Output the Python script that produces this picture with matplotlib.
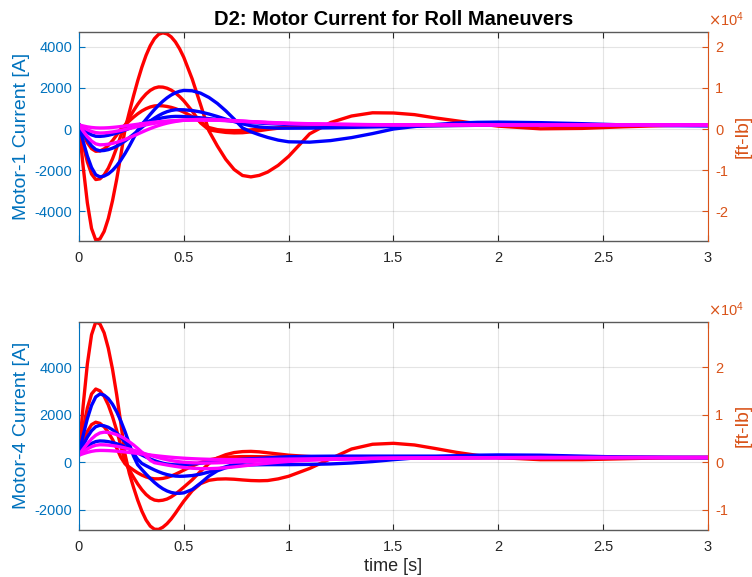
import matplotlib
matplotlib.use("Agg")
import matplotlib.pyplot as plt

plt.rcParams['font.family'] = ['Liberation Sans', 'DejaVu Sans']
plt.rcParams['axes.unicode_minus'] = False

# time samples [s]
t = [0, .02, .04, .06, .08, .10, .12, .14, .16, .18, .20, .22, .24, .26, .28, .30, .32, .34, .36, .38,
     .40, .42, .44, .46, .48, .50,
     .54, .58, .62, .66, .70, .74, .78, .82, .86, .90, .95, 1.0,
     1.1, 1.2, 1.3, 1.4, 1.5, 1.6, 1.7, 1.8, 1.9, 2.0, 2.2, 2.4, 2.6, 2.8, 3.0]

# Motor-1 current [A]
m1_red_a = [200, -1830, -3590, -4840, -5400, -5350, -4985, -4355, -3490, -2445, -1250, 0, 812, 1600, 2340,
            3008, 3585, 4053, 4398, 4609, 4680, 4630, 4482, 4239, 3903, 3487,
            2435, 1183, -94, -825, -1474, -1969, -2262, -2329, -2256, -2093, -1769, -1331,
            -236, 315, 633, 790, 780, 700, 540, 400, 260, 140, 10, 30, 110, 170, 200]
m1_red_b = [200, -761, -1600, -2190, -2458, -2426, -2235, -1905, -1452, -909, -309, 182, 543, 884, 1199,
            1474, 1704, 1880, 1995, 2048, 2039, 1986, 1892, 1755, 1581, 1373,
            873, 297, -40, -110, -165, -188, -180, -140, -80, -20, 40, 80,
            110, 130, 140, 150, 160, 165, 170, 175, 180, 180, 180, 180, 180, 180, 180]
m1_red_c = [200, -264, -669, -955, -1084, -1067, -968, -797, -567, -294, 0, 199, 393, 574, 738,
            878, 990, 1073, 1123, 1137, 1126, 1098, 1053, 991, 914, 824,
            605, 348, 71, -30, -70, -80, -70, -40, 0, 30, 60, 90,
            120, 140, 150, 160, 165, 170, 175, 180, 180, 180, 180, 180, 180, 180, 180]
m1_blue_a = [200, -597, -1313, -1875, -2226, -2329, -2290, -2183, -2013, -1787, -1510, -1188, -834, -452, -58,
             218, 471, 714, 946, 1160, 1351, 1517, 1656, 1763, 1837, 1877,
             1861, 1745, 1535, 1245, 887, 484, 53, -134, -280, -409, -540, -622,
             -640, -563, -418, -222, 0, 120, 220, 290, 325, 335, 310, 260, 200, 165, 150]
m1_blue_b = [200, -189, -541, -819, -998, -1060, -1045, -1003, -932, -837, -718, -579, -424, -260, -88,
             80, 238, 390, 529, 654, 760, 844, 903, 935, 940, 935,
             900, 830, 730, 610, 480, 360, 250, 160, 100, 65, 45, 40,
             45, 60, 80, 100, 120, 140, 155, 170, 180, 190, 190, 185, 180, 180, 180]
m1_blue_c = [200, 8, -160, -285, -352, -358, -340, -305, -255, -195, -125, -50, 30, 110, 190,
             265, 335, 400, 455, 505, 548, 580, 603, 614, 612, 605,
             580, 545, 505, 462, 420, 380, 345, 315, 290, 265, 240, 220,
             200, 190, 185, 180, 180, 180, 180, 180, 180, 180, 180, 180, 180, 180, 180]
m1_mag_a = [200, -100, -370, -585, -722, -770, -762, -738, -700, -648, -583, -508, -425, -336, -244,
            -152, -62, 22, 100, 170, 232, 285, 330, 368, 400, 425,
            455, 468, 465, 452, 432, 408, 382, 355, 330, 308, 285, 265,
            240, 225, 215, 208, 204, 200, 200, 200, 200, 200, 200, 200, 200, 200, 200]
m1_mag_b = [200, 78, -32, -120, -176, -195, -188, -170, -143, -108, -67, -22, 25, 72, 118,
            162, 204, 243, 278, 310, 338, 362, 382, 399, 413, 424,
            437, 440, 436, 426, 411, 393, 373, 352, 331, 311, 289, 270,
            245, 228, 217, 210, 205, 202, 200, 200, 200, 200, 200, 200, 200, 200, 200]
m1_mag_c = [200, 150, 105, 75, 57, 50, 53, 62, 78, 98, 122, 148, 176, 204, 232,
            259, 285, 309, 332, 353, 372, 388, 402, 414, 424, 431,
            440, 441, 436, 427, 414, 398, 380, 362, 343, 325, 304, 285,
            258, 238, 224, 214, 208, 204, 202, 200, 200, 200, 200, 200, 200, 200, 200]

# Motor-4 current [A]
m4_red_a = [350, 2387, 4144, 5378, 5915, 5835, 5461, 4809, 3926, 2846, 1625, 326, -458, -1051, -1594,
            -2062, -2434, -2692, -2823, -2830, -2740, -2590, -2390, -2150, -1890, -1640,
            -1200, -900, -760, -710, -700, -715, -745, -770, -780, -770, -700, -590,
            -260, 150, 560, 760, 800, 730, 580, 420, 290, 200, 110, 110, 150, 190, 200]
m4_red_b = [350, 1399, 2287, 2882, 3090, 3013, 2784, 2416, 1925, 1341, 689, 0, -320, -628, -911,
            -1157, -1358, -1506, -1594, -1620, -1600, -1550, -1460, -1340, -1200, -1050,
            -740, -380, -50, 180, 320, 410, 450, 460, 440, 400, 350, 300,
            240, 200, 175, 165, 165, 170, 180, 190, 195, 200, 200, 200, 200, 200, 200]
m4_red_c = [350, 863, 1297, 1588, 1690, 1641, 1497, 1264, 960, 600, 204, -69, -203, -330, -444,
            -541, -617, -670, -697, -698, -680, -640, -580, -505, -420, -330,
            -160, -10, 100, 170, 210, 230, 240, 240, 235, 228, 220, 212,
            205, 200, 200, 200, 200, 200, 200, 200, 200, 200, 200, 200, 200, 200, 200]
m4_blue_a = [350, 1132, 1838, 2397, 2756, 2880, 2831, 2685, 2448, 2128, 1734, 1284, 786, 265, -103,
             -306, -501, -684, -850, -996, -1117, -1210, -1273, -1306, -1308, -1290,
             -1150, -880, -580, -360, -230, -160, -125, -110, -105, -100, -100, -100,
             -90, -70, -30, 30, 110, 180, 235, 275, 300, 310, 300, 260, 220, 205, 200]
m4_blue_b = [350, 724, 1061, 1329, 1501, 1560, 1538, 1476, 1371, 1231, 1056, 852, 624, 382, 129,
             -49, -145, -237, -323, -400, -466, -519, -558, -582, -590, -587,
             -560, -500, -410, -300, -190, -90, 0, 75, 135, 180, 215, 235,
             252, 258, 260, 260, 260, 260, 260, 260, 260, 260, 250, 232, 215, 205, 200]
m4_blue_c = [350, 520, 673, 795, 873, 900, 893, 870, 833, 782, 720, 648, 568, 482, 394,
             305, 220, 140, 70, 10, -40, -75, -98, -108, -108, -100,
             -75, -40, 0, 40, 75, 105, 130, 150, 165, 175, 185, 190,
             195, 200, 200, 200, 200, 200, 200, 200, 200, 200, 200, 200, 200, 200, 200]
m4_mag_a = [300, 551, 785, 986, 1140, 1237, 1270, 1258, 1223, 1165, 1086, 985, 866, 733, 584,
            425, 258, 86, -17, -50, -83, -115, -145, -172, -197, -218,
            -251, -268, -269, -255, -230, -195, -155, -115, -75, -40, 0, 35,
            85, 120, 145, 160, 170, 178, 184, 189, 193, 196, 200, 200, 200, 200, 200]
m4_mag_b = [300, 436, 559, 656, 718, 740, 736, 724, 704, 677, 643, 603, 558, 509, 457,
            403, 348, 294, 242, 193, 148, 108, 73, 44, 20, 2,
            -20, -30, -30, -22, -10, 5, 20, 35, 50, 63, 78, 92,
            115, 133, 148, 160, 170, 178, 184, 189, 193, 196, 200, 200, 200, 200, 200]
m4_mag_c = [300, 362, 418, 462, 490, 500, 498, 492, 482, 469, 453, 435, 415, 394, 372,
            350, 328, 306, 285, 265, 246, 228, 212, 197, 184, 172,
            152, 137, 126, 119, 115, 114, 115, 117, 120, 124, 129, 134,
            144, 153, 161, 168, 174, 179, 184, 188, 191, 194, 198, 200, 200, 200, 200]

x_ticks = [0, 0.5, 1, 1.5, 2, 2.5, 3]
x_labels = ['0', '0.5', '1', '1.5', '2', '2.5', '3']

LEFT_C = '#0072BD'
RIGHT_C = '#D95319'
AX_C = '#262626'

fig = plt.figure(figsize=(7.52, 5.77), dpi=100)


def panel(rect, reds, blues, mags, ylim, yticks, rticks, ylabel):
    ax = fig.add_axes(rect)
    for c in reds:
        ax.plot(t, c, color='red', lw=2.4, solid_joinstyle='round')
    for c in blues:
        ax.plot(t, c, color='blue', lw=2.4, solid_joinstyle='round')
    for c in mags:
        ax.plot(t, c, color='magenta', lw=2.4, solid_joinstyle='round')
    ax.set_xlim(0, 3)
    ax.set_ylim(ylim)
    ax.set_xticks(x_ticks)
    ax.set_xticklabels(x_labels)
    ax.set_yticks(yticks)
    ax.set_yticklabels([str(v) for v in yticks])
    ax.grid(True, color=AX_C, alpha=0.12, lw=0.8)
    ax.set_axisbelow(True)
    ax.tick_params(axis='x', direction='in', top=True, length=4, width=0.8,
                   colors=AX_C, labelsize=10.5, pad=7)
    ax.tick_params(axis='y', direction='in', length=4, width=0.8,
                   colors=LEFT_C, labelsize=10.5, pad=5)
    for s in ('top', 'bottom'):
        ax.spines[s].set_color('#5a5a5a')
        ax.spines[s].set_linewidth(1.0)
    ax.spines['left'].set_color(LEFT_C)
    ax.spines['right'].set_visible(False)
    ax.set_ylabel(ylabel, color=LEFT_C, fontsize=14, labelpad=3)

    ax2 = ax.twinx()
    ax2.set_ylim(ylim[0] * 5 / 1e4, ylim[1] * 5 / 1e4)
    ax2.set_yticks(rticks)
    ax2.set_yticklabels([str(v) for v in rticks])
    ax2.tick_params(axis='y', direction='in', length=4, width=0.8,
                    colors=RIGHT_C, labelsize=10.5, pad=5)
    ax2.spines['right'].set_color(RIGHT_C)
    ax2.spines['left'].set_visible(False)
    ax2.spines['top'].set_visible(False)
    ax2.spines['bottom'].set_visible(False)
    ax2.set_ylabel('[ft-lb]', color=RIGHT_C, fontsize=14, labelpad=5)
    ax2.text(1.0, 1.015, r'$\times\mathregular{10^{4}}$', transform=ax2.transAxes,
             color=RIGHT_C, fontsize=10.5, ha='left', va='bottom')
    return ax


top = panel([0.105, 0.5823, 0.8365, 0.3622],
            [m1_red_a, m1_red_b, m1_red_c], [m1_blue_a, m1_blue_b, m1_blue_c],
            [m1_mag_a, m1_mag_b, m1_mag_c],
            (-5450, 4720), [-4000, -2000, 0, 2000, 4000], [-2, -1, 0, 1, 2],
            'Motor-1 Current [A]')
top.set_title('D2: Motor Current for Roll Maneuvers', fontsize=14.5, fontweight='bold', pad=5)

bot = panel([0.105, 0.0815, 0.8365, 0.361],
            [m4_red_a, m4_red_b, m4_red_c], [m4_blue_a, m4_blue_b, m4_blue_c],
            [m4_mag_a, m4_mag_b, m4_mag_c],
            (-2855, 5930), [-2000, 0, 2000, 4000], [-1, 0, 1, 2],
            'Motor-4 Current [A]')
bot.set_xlabel('time [s]', fontsize=13, color=AX_C, labelpad=3)

fig.savefig('out.png', dpi=100)
